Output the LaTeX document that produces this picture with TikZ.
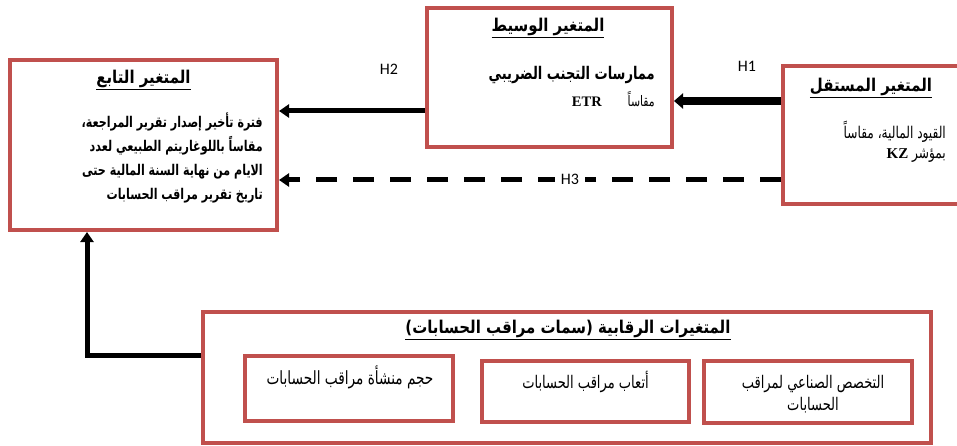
\documentclass[tikz,border=0pt]{standalone}
\usepackage{fontspec}
\TeXXeTstate=1
\newfontfamily\arabictitle[Script=Arabic, FakeStretch=0.85]{DejaVu Sans}
\newfontfamily\arabicnarrow[Script=Arabic, FakeStretch=0.75]{DejaVu Sans}
\newfontfamily\latinsans{Carlito}
\newfontfamily\timesfont{Liberation Serif}
\usetikzlibrary{arrows.meta}
\definecolor{boxred}{HTML}{C0504D}
\begin{document}
\begin{tikzpicture}[x=1pt,y=1pt,
  vbox/.style={draw=boxred, line width=4pt, rectangle, inner sep=0pt},
  ttl/.style={font=\arabictitle\bfseries\fontsize{17.6}{20}\selectfont, inner sep=1pt},
  body/.style={font=\arabicnarrow\fontsize{16}{20}\selectfont, align=right, inner sep=0pt},
  conn/.style={line width=5pt, -{Triangle[length=10pt,width=13pt]}},
  hlab/.style={font=\latinsans\fontsize{16}{18}\selectfont}
]
\useasboundingbox (0,0) rectangle (957,-446);

% boxes
\node[vbox, minimum width=267pt, minimum height=170pt] (dep) at (143.5,-145) {};
\node[vbox, minimum width=245pt, minimum height=139pt] (med) at (549.5,-77.5) {};
\node[vbox, minimum width=182pt, minimum height=138pt] (ind) at (874,-135) {};
\node[vbox, minimum width=728pt, minimum height=131pt] (ctrl) at (567,-377.5) {};
\node[vbox, minimum width=208pt, minimum height=65pt] (c1) at (349,-388.5) {};
\node[vbox, minimum width=207pt, minimum height=61pt] (c2) at (585.5,-391.5) {};
\node[vbox, minimum width=208pt, minimum height=62pt] (c3) at (808,-392) {};

% dependent
\node[ttl] (depT) at (143.5,-80) {\underline{\beginR المتغير التابع\endR}};
\node[body, font=\arabicnarrow\bfseries\fontsize{14.8}{24}\selectfont, anchor=east] (depB) at (263,-158)
  {\beginR فترة تأخير إصدار تقرير المراجعة،\endR\\
   \beginR مقاساً باللوغاريتم الطبيعي لعدد\endR\\
   \beginR الايام من نهاية السنة المالية حتى\endR\\
   \beginR تاريخ تقرير مراقب الحسابات\endR};

% mediator
\node[ttl] (medT) at (548,-28) {\underline{\beginR المتغير الوسيط\endR}};
\node[body, font=\arabicnarrow\bfseries\fontsize{17.4}{20}\selectfont, anchor=east] (medB) at (655,-75)
  {\beginR ممارسات التجنب الضريبي\endR};
\node[body, font=\arabicnarrow\fontsize{14.5}{16}\selectfont, anchor=east] (medC) at (655,-99)
  {\beginR مقاساً\hspace{26pt}{\timesfont\bfseries\fontsize{14.5}{16}\selectfont\beginL ETR\endL}\endR};

% independent
\node[ttl] (indT) at (871,-88) {\underline{\beginR المتغير المستقل\endR}};
\node[body, font=\arabicnarrow\fontsize{16.2}{20}\selectfont, anchor=north east] (indB) at (946,-121)
  {\beginR القيود المالية، مقاساً\endR\\
   \beginR بمؤشر {\timesfont\bfseries\fontsize{15}{16}\selectfont\beginL KZ\endL}\endR};

% control
\node[ttl] (ctrlT) at (568,-330) {\underline{\beginR المتغيرات الرقابية (سمات مراقب الحسابات)\endR}};
\node[body, font=\arabicnarrow\fontsize{18.2}{22}\selectfont] (c1T) at (350,-377) {\beginR حجم منشأة مراقب الحسابات\endR};
\node[body, font=\arabicnarrow\fontsize{17.4}{22}\selectfont] (c2T) at (585.5,-382) {\beginR أتعاب مراقب الحسابات\endR};
\node[body, font=\arabicnarrow\fontsize{17.4}{22}\selectfont, align=center] (c3T) at (813,-394)
  {\beginR التخصص الصناعي لمراقب\endR\\\beginR الحسابات\endR};

% connectors
\coordinate (y1) at (0,-101);
\coordinate (y2) at (0,-111);
\coordinate (y3) at (0,-180);
\coordinate (yv) at (0,-355);
\coordinate (xv) at (87,0);
\draw[conn, line width=7.5pt, -{Triangle[length=9pt,width=15pt]}] (ind.west |- y1) -- (med.east |- y1);
\draw[conn] (med.west |- y2) -- (dep.east |- y2);
\draw[conn, dash pattern=on 21pt off 16pt] (ind.west |- y3) -- (dep.east |- y3);
\draw[conn] (ctrl.west |- yv) -- (xv |- yv) -- (xv |- dep.south);

% labels
\node[hlab] (h1) at (747,-66) {H1};
\node[hlab] (h2) at (389,-69) {H2};
\node[hlab, fill=white, inner sep=6pt] (h3) at (570,-179) {H3};
\end{tikzpicture}
\end{document}
